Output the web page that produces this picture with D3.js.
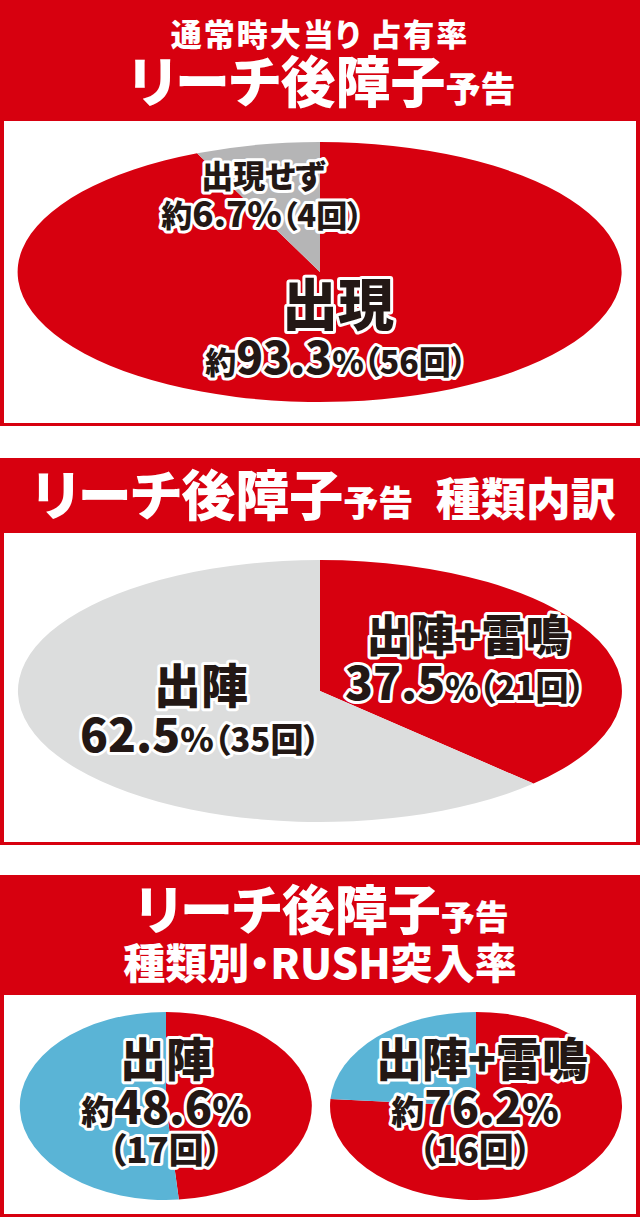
<!DOCTYPE html>
<html>
<head>
<meta charset="utf-8">
<script src="https://cdn.jsdelivr.net/npm/d3@7"></script>
<style>
  body { margin: 0; background: #fff; }
  svg text { font-family: "Noto Sans CJK JP", "Noto Sans", sans-serif; font-weight: 900; font-feature-settings: "palt"; }
  .lbl { fill: #231815; stroke: #fff; stroke-width: 6px; stroke-linejoin: round; paint-order: stroke; }
  .ttl { fill: #fff; }
</style>
</head>
<body>
<div id="chart"></div>
<script>
// chart 1: 通常時大当り占有率
var appearLabels = ["出現", "出現せず"]
var appearCounts = [56, 4]
var appearRates = ["93.3", "6.7"]

// chart 2: 種類内訳
var typeLabels = ["出陣+雷鳴", "出陣"]
var typeCounts = [21, 35]
var typeRates = ["37.5", "62.5"]

// chart 3: 種類別・RUSH突入率
var rushLabels = ["出陣", "出陣+雷鳴"]
var rushRates = [48.6, 76.2]
var rushCounts = [17, 16]

var red = "#d7000f"

var width = 640, height = 1217

var svg = d3.select("#chart")
    .append("svg")
    .attr("width", width)
    .attr("height", height)

// panels: red frame + white box
var panels = [
    {y: 0, h: 426, top: 121},
    {y: 458, h: 387, top: 533},
    {y: 875, h: 342, top: 995}
]
panels.forEach(function (p) {
    svg.append("rect").attr("x", 0).attr("y", p.y).attr("width", width).attr("height", p.h).attr("fill", red)
    svg.append("rect").attr("x", 4).attr("y", p.top).attr("width", width - 8).attr("height", p.y + p.h - 3 - p.top).attr("fill", "#fff")
})

function title(parts, x, y) {
    var t = svg.append("text").attr("class", "ttl").attr("x", x).attr("y", y).attr("text-anchor", "middle")
    parts.forEach(function (p) {
        t.append("tspan").attr("font-size", p[1]).text(p[0])
    })
    return t
}

title([["通常時大当り\u2009占有率", 31]], 320, 46).attr("letter-spacing", 2)
title([["リーチ後障子", 55], ["予告", 35]], 322, 102)
title([["リーチ後障子", 54], ["予告", 35], ["\u2002種類内訳", 45]], 324, 516)
title([["リーチ後障子", 53], ["予告", 34]], 322, 930)
title([["種類別・RUSH突入率", 42]], 320, 979)

var arc = d3.arc().innerRadius(0).outerRadius(1)

// pie in a unit circle, stretched into an ellipse
function ellipsePie(values, colors, cx, cy, rx, ry) {
    var pie = d3.pie().sort(null).value(function (d) { return d })
    var g = svg.append("g").attr("transform", "translate(" + cx + "," + cy + ") scale(" + rx + "," + ry + ")")
    g.selectAll("path")
        .data(pie(values))
        .enter()
        .append("path")
        .attr("d", arc)
        .attr("fill", function (d, i) { return colors[i] })
}

function label(parts, x, y) {
    var t = svg.append("text").attr("class", "lbl").attr("x", x).attr("y", y).attr("text-anchor", "middle")
    parts.forEach(function (p) {
        t.append("tspan").attr("font-size", p[1]).text(p[0])
    })
    return t
}

// chart 1
ellipsePie(appearCounts, [red, "#b5b5b6"], 320, 272, 302, 130)
label([[appearLabels[1], 32]], 263, 188)
label([["約", 31], [appearRates[1] + "%", 35], ["（" + appearCounts[1] + "回）", 31]], 262, 227)
label([[appearLabels[0], 56]], 338, 325)
label([["約", 31], [appearRates[0], 44], ["%", 32], ["（" + appearCounts[0] + "回）", 32]], 336, 374)

// chart 2
ellipsePie(typeCounts, [red, "#dcdddd"], 320, 691, 302, 131)
label([[typeLabels[0], 44]], 468, 652)
label([[typeRates[0], 46], ["%", 34], ["（" + typeCounts[0] + "回）", 33]], 465, 700)
label([[typeLabels[1], 47]], 201, 703)
label([[typeRates[1], 46], ["%", 34], ["（" + typeCounts[1] + "回）", 33]], 200, 752)

// chart 3
var rushX = [166, 476]
rushRates.forEach(function (r, i) {
    ellipsePie([r, 100 - r], [red, "#5ab4d6"], rushX[i], 1106, 146, 94)
    label([[rushLabels[i], 46]], rushX[i] + (i ? 6 : 0), 1076)
    label([["約", 33], [r.toFixed(1), 45], ["%", 37]], rushX[i] - 1, 1124)
    label([["（" + rushCounts[i] + "回）", 35]], rushX[i] - 1, 1163)
})
</script>
</body>
</html>
